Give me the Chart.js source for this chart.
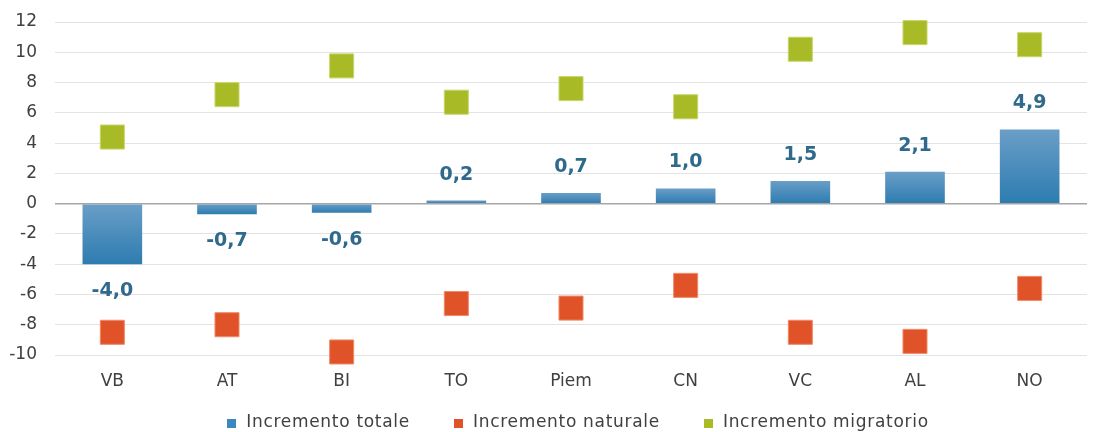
<!DOCTYPE html>
<html><head><meta charset="utf-8">
<script src="https://cdn.jsdelivr.net/npm/chart.js@4.4.1/dist/chart.umd.min.js"></script>
<style>html,body{margin:0;padding:0;background:#fff}#wrap{width:1105px;height:432px}</style>
</head><body><div id="wrap"><canvas id="c" width="1105" height="432"></canvas></div>
<script>
const categories = ['VB','AT','BI','TO','Piem','CN','VC','AL','NO'];
const incrementoTotale = [-4.0,-0.7,-0.6,0.2,0.7,1.0,1.5,2.1,4.9];
const incrementoNaturale = [-8.5,-8.0,-9.8,-6.6,-6.9,-5.4,-8.5,-9.1,-5.6];
const incrementoMigratorio = [4.4,7.2,9.1,6.7,7.6,6.4,10.2,11.3,10.5];
const seriesNames = ['Incremento totale','Incremento naturale','Incremento migratorio'];
const seriesColors = ['#3b88bd','#e05328','#a9ba27'];
const yMin = -10, yMax = 12, yStep = 2;

const FONT = '"DejaVu Sans", sans-serif';
const TEXT = '#404040';

const barLabels = {
  id:'barLabels',
  afterDatasetsDraw(chart){
    const meta = chart.getDatasetMeta(0);
    const c = chart.ctx;
    c.save();
    c.font = 'bold 19px ' + FONT;
    c.fillStyle = '#2f6a8d';
    c.textAlign = 'center'; c.textBaseline = 'middle';
    meta.data.forEach((bar,i)=>{
      const v = incrementoTotale[i];
      const y = v >= 0 ? Math.min(bar.y,bar.base) - 26 : Math.max(bar.y,bar.base) + 27;
      c.fillText(v.toFixed(1).replace('.',','), bar.x, y);
    });
    c.restore();
  }
};

const customLegend = {
  id:'customLegend',
  afterDraw(chart){
    const c = chart.ctx;
    const ca = chart.chartArea;
    c.save();
    c.font = '17px ' + FONT;
    if ('letterSpacing' in c) c.letterSpacing = '0.7px';
    const box = 9, gapText = 10, gapItem = 44;
    const widths = seriesNames.map(t => c.measureText(t).width);
    const total = widths.reduce((a,w)=>a + box + gapText + w, 0) + gapItem*(seriesNames.length-1);
    let x = (ca.left + ca.right)/2 + 7 - total/2;
    const yc = chart.height - 9;
    c.textBaseline = 'middle'; c.textAlign = 'left';
    seriesNames.forEach((t,i)=>{
      c.fillStyle = seriesColors[i];
      c.fillRect(Math.round(x), Math.round(yc - box/2), box, box);
      c.fillStyle = TEXT;
      c.fillText(t, x + box + gapText, yc);
      x += box + gapText + widths[i] + gapItem;
    });
    c.restore();
  }
};

function barGradient(context){
  const chart = context.chart;
  const ys = chart.scales && chart.scales.y;
  if (context.type !== 'data' || !ys) return seriesColors[0];
  const v = context.raw;
  const y0 = ys.getPixelForValue(0), y1 = ys.getPixelForValue(v);
  if (!isFinite(y0) || !isFinite(y1)) return seriesColors[0];
  const top = Math.min(y0,y1), bot = Math.max(y0,y1) + 0.01;
  const g = chart.ctx.createLinearGradient(0, top, 0, bot);
  g.addColorStop(0,'#6a9ec7');
  g.addColorStop(1,'#2d7cb0');
  return g;
}

new Chart(document.getElementById('c'), {
  type:'bar',
  data:{
    labels: categories,
    datasets:[
      {label:seriesNames[0], data:incrementoTotale, backgroundColor:barGradient,
       borderWidth:0, categoryPercentage:1, barPercentage:0.52, order:2},
      {label:seriesNames[1], type:'line', data:incrementoNaturale, showLine:false, clip:false,
       pointStyle:'rect', pointRadius:17, pointHoverRadius:17,
       backgroundColor:seriesColors[1], borderColor:'#f08a6a', borderWidth:1, order:1},
      {label:seriesNames[2], type:'line', data:incrementoMigratorio, showLine:false, clip:false,
       pointStyle:'rect', pointRadius:17, pointHoverRadius:17,
       backgroundColor:seriesColors[2], borderColor:'#c8d66a', borderWidth:1, order:0}
    ]
  },
  options:{
    responsive:false, animation:false, devicePixelRatio:1,
    layout:{padding:{top:22, right:10, left:0, bottom:41}},
    plugins:{
      tooltip:{enabled:false},
      legend:{display:false}
    },
    scales:{
      x:{
        afterFit(s){ s.height = 36; },
        grid:{display:false, drawTicks:false},
        border:{display:false},
        ticks:{color:TEXT, font:{family:FONT, size:17}, padding:16}
      },
      y:{
        min:yMin, max:yMax,
        afterFit(s){ s.width = 55; s.paddingTop = 0; s.paddingBottom = 0; },
        grid:{drawTicks:false, color:(c)=> c.tick && c.tick.value===0 ? '#a6a6a6' : '#e3e3e3', lineWidth:(c)=> c.tick && c.tick.value===0 ? 1.5 : 1},
        border:{display:false},
        ticks:{stepSize:yStep, color:TEXT, font:{family:FONT, size:17}, padding:18}
      }
    }
  },
  plugins:[barLabels, customLegend]
});
</script></body></html>
